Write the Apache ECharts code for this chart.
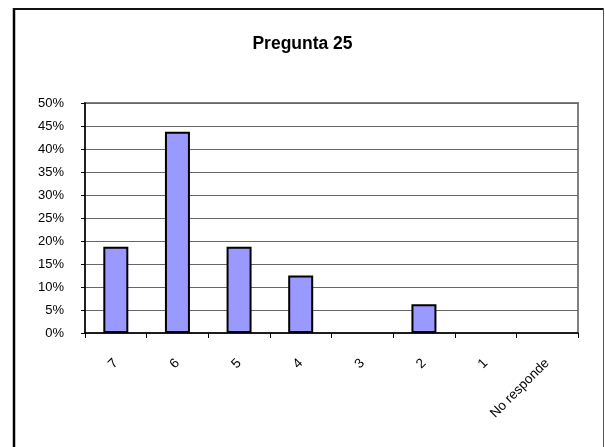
<!DOCTYPE html>
<html>
<head>
<meta charset="utf-8">
<script src="https://cdn.jsdelivr.net/npm/echarts@6/dist/echarts.min.js"></script>
<style>html,body{margin:0;padding:0;background:#fff;}#c{width:605px;height:447px;}</style>
</head>
<body>
<div id="c"></div>
<script>
var titleText = 'Pregunta 25';
var categories = ['7', '6', '5', '4', '3', '2', '1', 'No responde'];
var values = [0.1875, 0.4375, 0.1875, 0.125, 0, 0.0625, 0, 0];
var yMin = 0, yMax = 0.5, yStep = 0.05;

var barData = values.map(function (v) {
  return v === 0 ? {value: v, itemStyle: {borderWidth: 0}} : v;
});

var chart = echarts.init(document.getElementById('c'), null, {renderer: 'canvas'});
chart.setOption({
  backgroundColor: '#ffffff',
  animation: false,
  title: {
    text: titleText, left: 'center', top: 30,
    textStyle: {fontFamily: 'Liberation Sans, Arial', fontSize: 17.5, fontWeight: 'bold', color: '#000'}
  },
  grid: {left: 85, top: 103, right: 27, bottom: 114, show: true, borderColor: '#808080', borderWidth: 2, backgroundColor: '#fff'},
  xAxis: {
    type: 'category', data: categories,
    axisLine: {lineStyle: {color: '#000', width: 1.5}},
    axisTick: {show: true, length: 5, lineStyle: {color: '#000'}},
    axisLabel: {rotate: 45, margin: 28, color: '#000', fontFamily: 'Liberation Sans, Arial', fontSize: 13.5, interval: 0}
  },
  yAxis: {
    type: 'value', min: yMin, max: yMax, interval: yStep,
    axisLine: {show: true, lineStyle: {color: '#000', width: 1.5}},
    axisTick: {show: true, length: 4, lineStyle: {color: '#000'}},
    splitLine: {lineStyle: {color: '#666', width: 1}},
    axisLabel: {margin: 21, color: '#000', fontFamily: 'Liberation Sans, Arial', fontSize: 13,
      formatter: function (v) { return Math.round(v * 100) + '%'; }}
  },
  series: [{
    type: 'bar', data: barData, barWidth: 25,
    itemStyle: {color: '#9999ff', borderColor: '#000', borderWidth: 2}
  }],
  graphic: [
    {type: 'line', shape: {x1: 14, y1: 8, x2: 14, y2: 460}, style: {stroke: '#000', lineWidth: 2.5}},
    {type: 'line', shape: {x1: 13, y1: 9, x2: 604, y2: 9}, style: {stroke: '#111', lineWidth: 2}},
    {type: 'line', shape: {x1: 603.5, y1: 8, x2: 603.5, y2: 460}, style: {stroke: '#555', lineWidth: 1}}
  ]
});
</script>
</body>
</html>
